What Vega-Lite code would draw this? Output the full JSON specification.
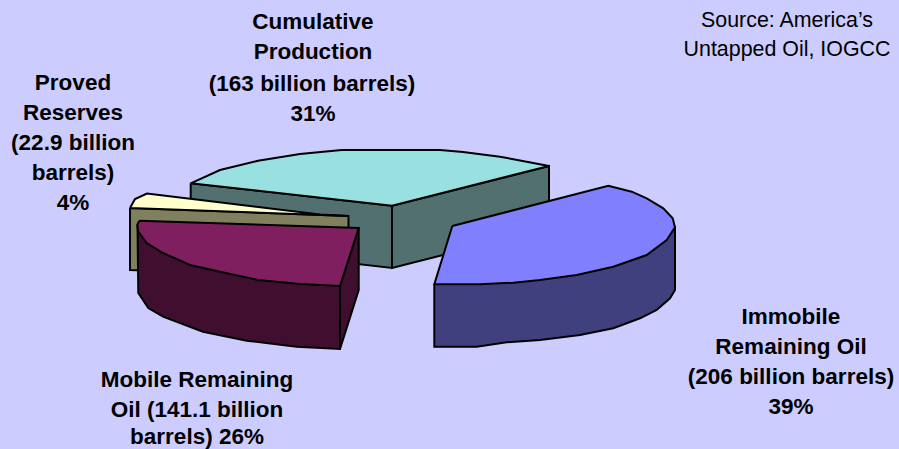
{"$schema":"https://vega.github.io/schema/vega-lite/v6.json","width":899,"height":449,"padding":0,"autosize":"none","background":"#CCCCFF","view":{"stroke":null},
"layer":[
{"data":{"values":[
{"piece":"a","part":"Cumulative side","seq":1,"x":190.7,"y":183.3},{"piece":"a","part":"Cumulative side","seq":2,"x":392,"y":205.7},{"piece":"a","part":"Cumulative side","seq":3,"x":392,"y":268},{"piece":"a","part":"Cumulative side","seq":4,"x":190.7,"y":245},{"piece":"a","part":"Cumulative side","seq":5,"x":190.7,"y":183.3},
{"piece":"b","part":"Cumulative side","seq":1,"x":392,"y":205.7},{"piece":"b","part":"Cumulative side","seq":2,"x":549,"y":166},{"piece":"b","part":"Cumulative side","seq":3,"x":549,"y":228},{"piece":"b","part":"Cumulative side","seq":4,"x":392,"y":268},{"piece":"b","part":"Cumulative side","seq":5,"x":392,"y":205.7},
{"piece":"c","part":"Cumulative top","seq":1,"x":190.7,"y":183.3},{"piece":"c","part":"Cumulative top","seq":2,"x":220,"y":170},{"piece":"c","part":"Cumulative top","seq":3,"x":258,"y":160.7},{"piece":"c","part":"Cumulative top","seq":4,"x":300,"y":154},{"piece":"c","part":"Cumulative top","seq":5,"x":341.7,"y":150},{"piece":"c","part":"Cumulative top","seq":6,"x":440,"y":150},{"piece":"c","part":"Cumulative top","seq":7,"x":463,"y":152},{"piece":"c","part":"Cumulative top","seq":8,"x":500,"y":156.7},{"piece":"c","part":"Cumulative top","seq":9,"x":528,"y":162},{"piece":"c","part":"Cumulative top","seq":10,"x":549,"y":166},{"piece":"c","part":"Cumulative top","seq":11,"x":392,"y":205.7},{"piece":"c","part":"Cumulative top","seq":12,"x":190.7,"y":183.3},
{"piece":"d","part":"Proved side","seq":1,"x":130,"y":208},{"piece":"d","part":"Proved side","seq":2,"x":348.5,"y":216},{"piece":"d","part":"Proved side","seq":3,"x":348.5,"y":278},{"piece":"d","part":"Proved side","seq":4,"x":130,"y":270},{"piece":"d","part":"Proved side","seq":5,"x":130,"y":208},
{"piece":"e","part":"Proved top","seq":1,"x":130,"y":208},{"piece":"e","part":"Proved top","seq":2,"x":135,"y":199},{"piece":"e","part":"Proved top","seq":3,"x":147,"y":193.5},{"piece":"e","part":"Proved top","seq":4,"x":320,"y":214.5},{"piece":"e","part":"Proved top","seq":5,"x":348.5,"y":216},{"piece":"e","part":"Proved top","seq":6,"x":130,"y":208},
{"piece":"f","part":"Mobile side","seq":1,"x":137.5,"y":225},{"piece":"f","part":"Mobile side","seq":2,"x":138.3,"y":293},{"piece":"f","part":"Mobile side","seq":3,"x":148.3,"y":308},{"piece":"f","part":"Mobile side","seq":4,"x":163,"y":316.7},{"piece":"f","part":"Mobile side","seq":5,"x":203,"y":331.7},{"piece":"f","part":"Mobile side","seq":6,"x":246.7,"y":340.7},{"piece":"f","part":"Mobile side","seq":7,"x":296.7,"y":346.7},{"piece":"f","part":"Mobile side","seq":8,"x":340,"y":349},{"piece":"f","part":"Mobile side","seq":9,"x":340,"y":286},{"piece":"f","part":"Mobile side","seq":10,"x":137.5,"y":225},
{"piece":"g","part":"Mobile side","seq":1,"x":358.7,"y":228},{"piece":"g","part":"Mobile side","seq":2,"x":358.7,"y":290},{"piece":"g","part":"Mobile side","seq":3,"x":340,"y":349},{"piece":"g","part":"Mobile side","seq":4,"x":340,"y":286},{"piece":"g","part":"Mobile side","seq":5,"x":358.7,"y":228},
{"piece":"h","part":"Mobile top","seq":1,"x":139.3,"y":220.7},{"piece":"h","part":"Mobile top","seq":2,"x":358.7,"y":228},{"piece":"h","part":"Mobile top","seq":3,"x":340,"y":286},{"piece":"h","part":"Mobile top","seq":4,"x":300,"y":284},{"piece":"h","part":"Mobile top","seq":5,"x":258,"y":280},{"piece":"h","part":"Mobile top","seq":6,"x":226.7,"y":273.3},{"piece":"h","part":"Mobile top","seq":7,"x":190,"y":265},{"piece":"h","part":"Mobile top","seq":8,"x":163,"y":253},{"piece":"h","part":"Mobile top","seq":9,"x":146.7,"y":243},{"piece":"h","part":"Mobile top","seq":10,"x":138.3,"y":231.7},{"piece":"h","part":"Mobile top","seq":11,"x":137.3,"y":225},{"piece":"h","part":"Mobile top","seq":12,"x":139.3,"y":220.7},
{"piece":"i","part":"Immobile side","seq":1,"x":434.3,"y":284.3},{"piece":"i","part":"Immobile side","seq":2,"x":434.3,"y":346.7},{"piece":"i","part":"Immobile side","seq":3,"x":476.7,"y":346.7},{"piece":"i","part":"Immobile side","seq":4,"x":506.7,"y":342.3},{"piece":"i","part":"Immobile side","seq":5,"x":540,"y":340},{"piece":"i","part":"Immobile side","seq":6,"x":580,"y":335},{"piece":"i","part":"Immobile side","seq":7,"x":613.3,"y":328.3},{"piece":"i","part":"Immobile side","seq":8,"x":640,"y":318.3},{"piece":"i","part":"Immobile side","seq":9,"x":656.7,"y":310},{"piece":"i","part":"Immobile side","seq":10,"x":670,"y":298.3},{"piece":"i","part":"Immobile side","seq":11,"x":675,"y":290},{"piece":"i","part":"Immobile side","seq":12,"x":675,"y":227.3},{"piece":"i","part":"Immobile side","seq":13,"x":434.3,"y":284.3},
{"piece":"j","part":"Immobile top","seq":1,"x":452.3,"y":226},{"piece":"j","part":"Immobile top","seq":2,"x":608.3,"y":185.7},{"piece":"j","part":"Immobile top","seq":3,"x":631.7,"y":191.7},{"piece":"j","part":"Immobile top","seq":4,"x":646.7,"y":198.3},{"piece":"j","part":"Immobile top","seq":5,"x":663.3,"y":208.3},{"piece":"j","part":"Immobile top","seq":6,"x":672.7,"y":218.3},{"piece":"j","part":"Immobile top","seq":7,"x":675,"y":227.3},{"piece":"j","part":"Immobile top","seq":8,"x":666.7,"y":240},{"piece":"j","part":"Immobile top","seq":9,"x":646.7,"y":255},{"piece":"j","part":"Immobile top","seq":10,"x":613.3,"y":266.7},{"piece":"j","part":"Immobile top","seq":11,"x":576.7,"y":275},{"piece":"j","part":"Immobile top","seq":12,"x":540,"y":280},{"piece":"j","part":"Immobile top","seq":13,"x":513.3,"y":282.7},{"piece":"j","part":"Immobile top","seq":14,"x":480,"y":284.3},{"piece":"j","part":"Immobile top","seq":15,"x":434.3,"y":284.3},{"piece":"j","part":"Immobile top","seq":16,"x":452.3,"y":226}
]},
"mark":{"type":"line","stroke":"black","strokeWidth":2,"strokeJoin":"miter","interpolate":"linear"},
"encoding":{"x":{"field":"x","type":"quantitative","scale":{"domain":[0,899]},"axis":null},"y":{"field":"y","type":"quantitative","scale":{"domain":[449,0]},"axis":null},"detail":{"field":"piece"},"order":{"field":"seq","type":"quantitative"},
"fill":{"field":"part","type":"nominal","legend":null,"scale":{"domain":["Cumulative side","Cumulative top","Proved side","Proved top","Mobile side","Mobile top","Immobile side","Immobile top"],"range":["#527070","#99E0E0","#80805F","#FFFFCC","#400F30","#7F1F5F","#40407F","#8080FF"]}}}},
{"data":{"values":[
{"t":"Cumulative","x":313,"y":22},{"t":"Production","x":313,"y":52},{"t":"(163 billion barrels)","x":312,"y":84},{"t":"31%","x":313,"y":114},
{"t":"Proved","x":73,"y":83},{"t":"Reserves","x":73,"y":113},{"t":"(22.9 billion","x":73,"y":143},{"t":"barrels)","x":73,"y":173},{"t":"4%","x":73,"y":203},
{"t":"Immobile","x":791,"y":317},{"t":"Remaining Oil","x":791,"y":347},{"t":"(206 billion barrels)","x":791,"y":377},{"t":"39%","x":791,"y":407},
{"t":"Mobile Remaining","x":197,"y":380},{"t":"Oil (141.1 billion","x":197,"y":410},{"t":"barrels) 26%","x":197,"y":437}
]},
"mark":{"type":"text","font":"Liberation Sans","fontWeight":"bold","fontSize":22.5,"align":"center","baseline":"middle","color":"black"},
"encoding":{"x":{"field":"x","type":"quantitative","scale":{"domain":[0,899]},"axis":null},"y":{"field":"y","type":"quantitative","scale":{"domain":[449,0]},"axis":null},"text":{"field":"t"}}},
{"data":{"values":[{"t":"Source: America’s","x":787,"y":21},{"t":"Untapped Oil, IOGCC","x":787,"y":50}]},
"mark":{"type":"text","font":"Liberation Sans","fontSize":21.4,"align":"center","baseline":"middle","color":"black"},
"encoding":{"x":{"field":"x","type":"quantitative","scale":{"domain":[0,899]},"axis":null},"y":{"field":"y","type":"quantitative","scale":{"domain":[449,0]},"axis":null},"text":{"field":"t"}}}
]}
